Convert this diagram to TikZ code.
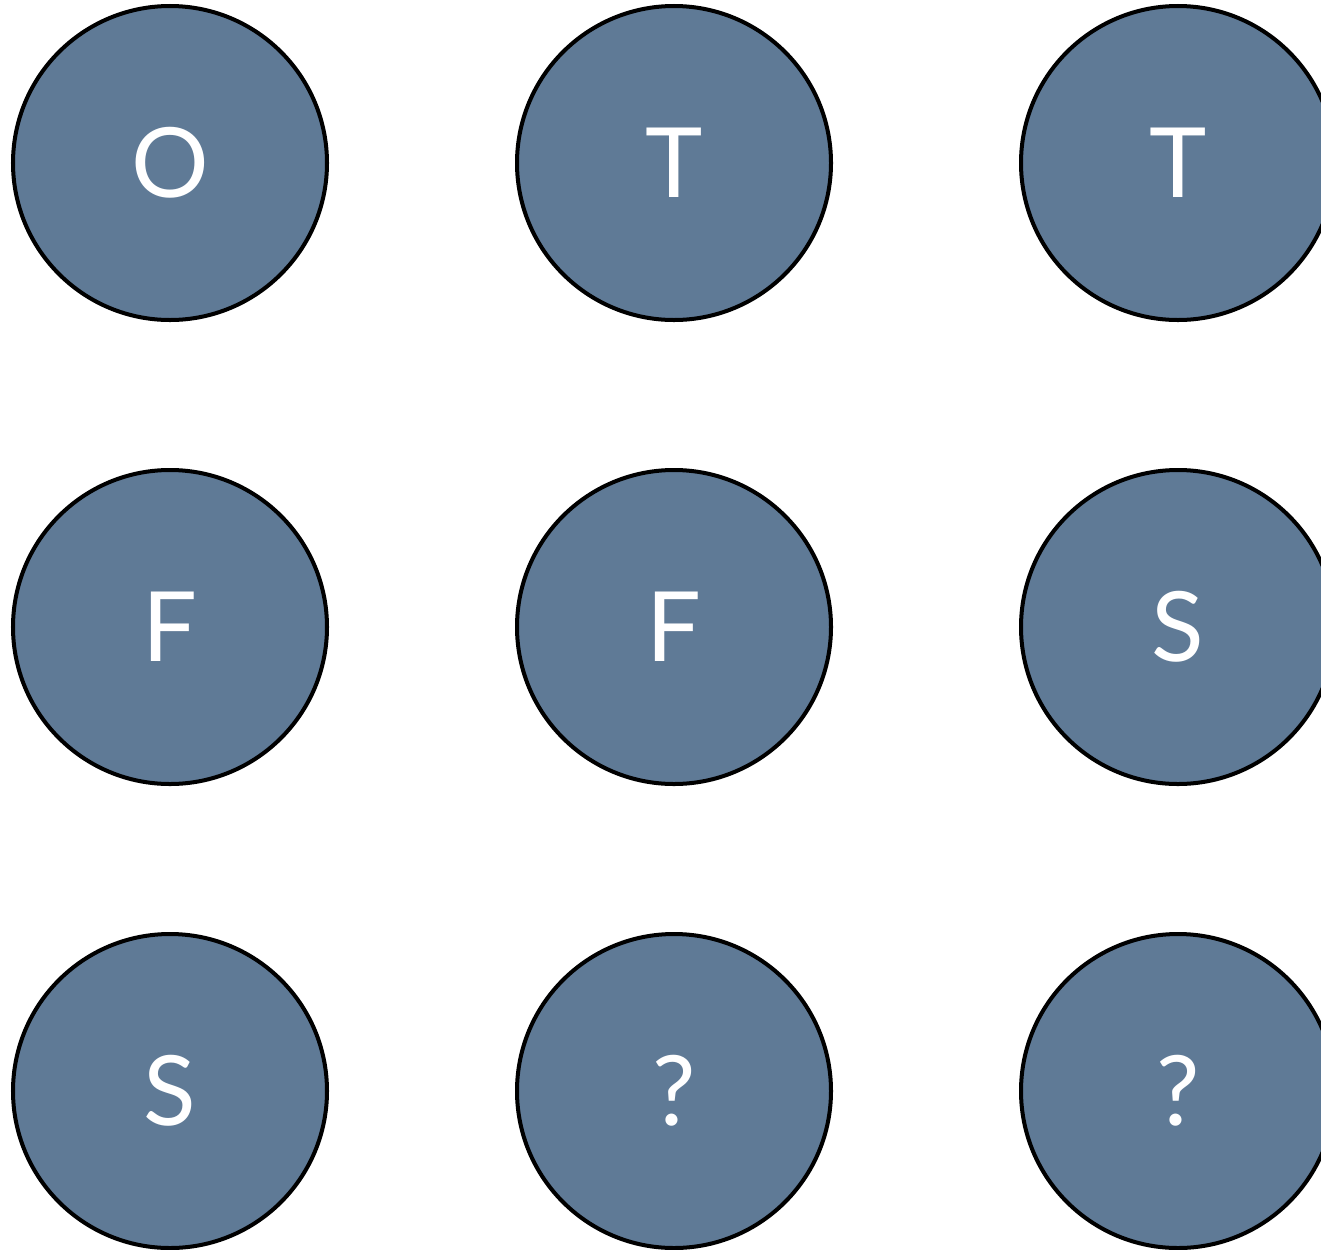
\documentclass[tikz,border=0pt]{standalone}
\usepackage{fontspec}
\setmainfont{Lato}
\usepackage{xcolor}
\usepackage{tikz}
\usetikzlibrary{positioning}
\definecolor{SlateBlue}{HTML}{5F7A96}
\definecolor{Ink}{HTML}{000000}
\tikzset{
  letterdisc/.style={
    circle,
    draw=Ink,
    line width=2.85pt,
    fill=SlateBlue,
    minimum size=7.85cm,
    inner sep=0pt,
    text=white,
    font=\fontsize{69}{69}\selectfont
  }
}

\begin{document}
\begin{tikzpicture}[on grid, node distance=11.6cm and 12.6cm]
  \useasboundingbox (0,0) rectangle (33.025,-31.225);
  \clip (0,0) rectangle (33.025,-31.225);
  % top row
  \node[letterdisc] (o1) at (4.25,-4.075) {O};
  \node[letterdisc, right=of o1] (t1) {T};
  \node[letterdisc, right=of t1] (t2) {T};
  % middle row
  \node[letterdisc, below=of o1] (f1) {F};
  \node[letterdisc, below=of t1] (f2) {F};
  \node[letterdisc, below=of t2] (s1) {S};
  % bottom row
  \node[letterdisc, below=of f1] (s2) {S};
  \node[letterdisc, below=of f2] (q1) {?};
  \node[letterdisc, below=of s1] (q2) {?};
\end{tikzpicture}
\end{document}
